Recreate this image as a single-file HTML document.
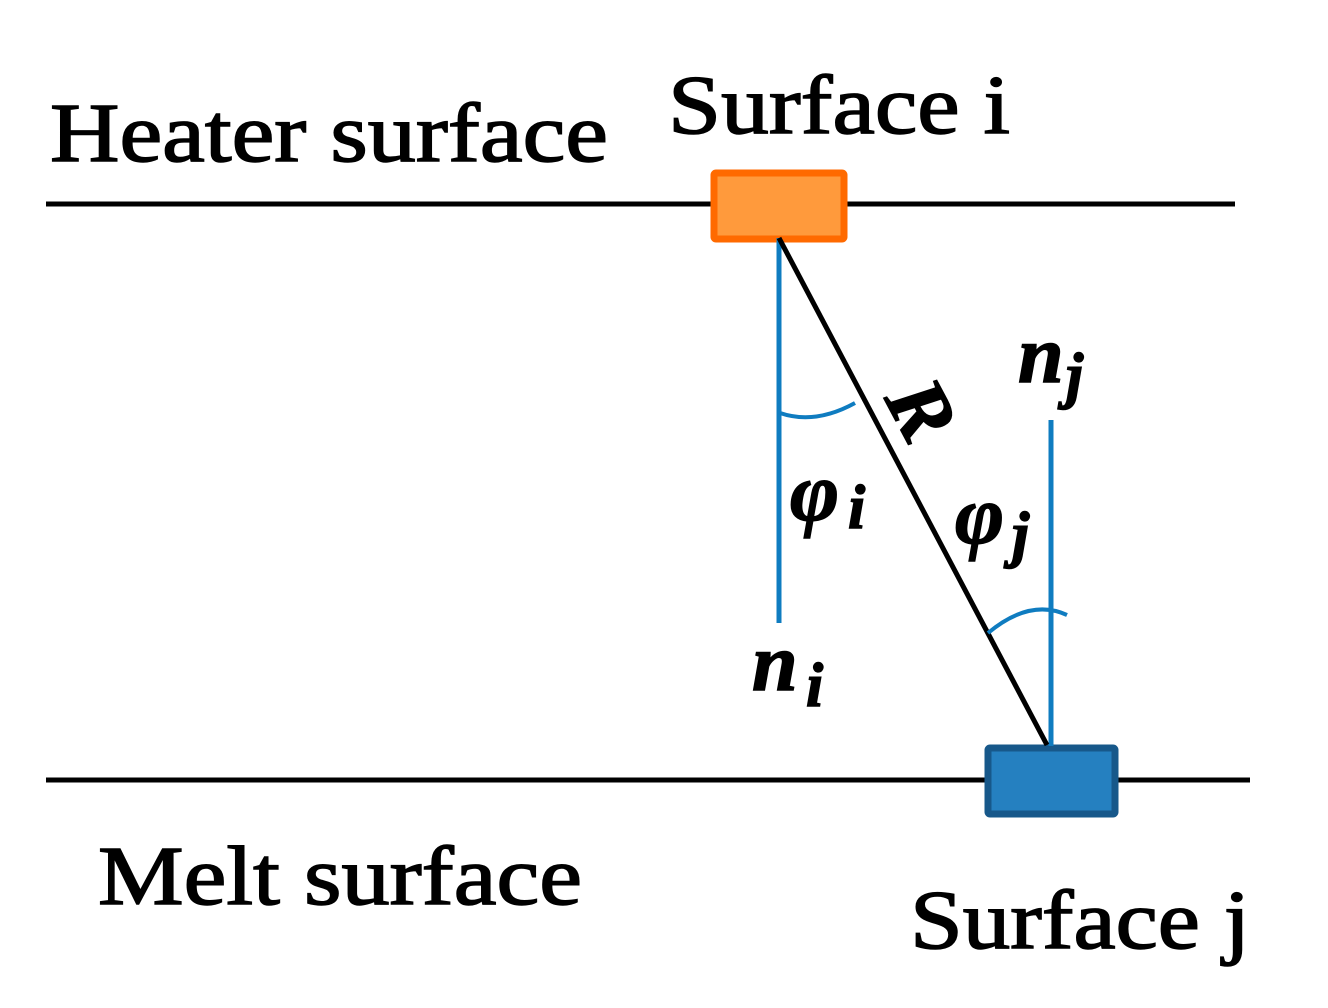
<!DOCTYPE html>
<html><head><style>
html,body{margin:0;padding:0;background:#fff;}
svg{display:block}
text{font-family:"Liberation Serif",serif;fill:#000}
.t{stroke:#000;stroke-width:1.5}
.m{font-style:italic;font-weight:bold}
</style></head><body>
<svg width="1328" height="1008" viewBox="0 0 1328 1008">
<line x1="46" y1="204" x2="1235" y2="204" stroke="#000" stroke-width="5"/>
<line x1="46" y1="780" x2="1250" y2="780" stroke="#000" stroke-width="5"/>
<rect x="714" y="173" width="130" height="66" fill="#FF9A3C" stroke="#FF6A00" stroke-width="7" rx="2"/>
<rect x="988" y="748" width="127" height="66" fill="#2580C0" stroke="#17588A" stroke-width="7" rx="2"/>
<line x1="779" y1="238" x2="779" y2="623" stroke="#0F7CC0" stroke-width="5"/>
<line x1="1051" y1="420" x2="1051" y2="746" stroke="#0F7CC0" stroke-width="5"/>
<line x1="779" y1="238" x2="1047" y2="745" stroke="#000" stroke-width="5"/>
<path d="M780 413 Q815 425 855 403" fill="none" stroke="#0F7CC0" stroke-width="4"/>
<path d="M988 633 Q1030 598 1067 615" fill="none" stroke="#0F7CC0" stroke-width="4"/>
<text class="t" x="50" y="161" font-size="84" textLength="558" lengthAdjust="spacingAndGlyphs">Heater surface</text>
<text class="t" x="668" y="133" font-size="84" textLength="342" lengthAdjust="spacingAndGlyphs">Surface i</text>
<text class="t" x="98" y="904" font-size="84" textLength="484" lengthAdjust="spacingAndGlyphs">Melt surface</text>
<text class="t" x="910" y="948" font-size="84" textLength="340" lengthAdjust="spacingAndGlyphs">Surface j</text>
<text class="m t" x="1018" y="382" font-size="82">n</text>
<text class="m t" x="1066" y="396" font-size="62">j</text>
<text class="m t" x="752" y="690" font-size="82">n</text>
<text class="m t" x="806" y="706" font-size="62">i</text>
<text class="m t" x="790" y="520" font-size="84">φ</text>
<text class="m t" x="848" y="528" font-size="62">i</text>
<text class="m t" x="955" y="543" font-size="84">φ</text>
<text class="m t" x="1012" y="555" font-size="62">j</text>
<text class="m t" x="0" y="0" font-size="84" transform="translate(897,423) rotate(62)" text-anchor="middle">R</text>
</svg>
</body></html>
